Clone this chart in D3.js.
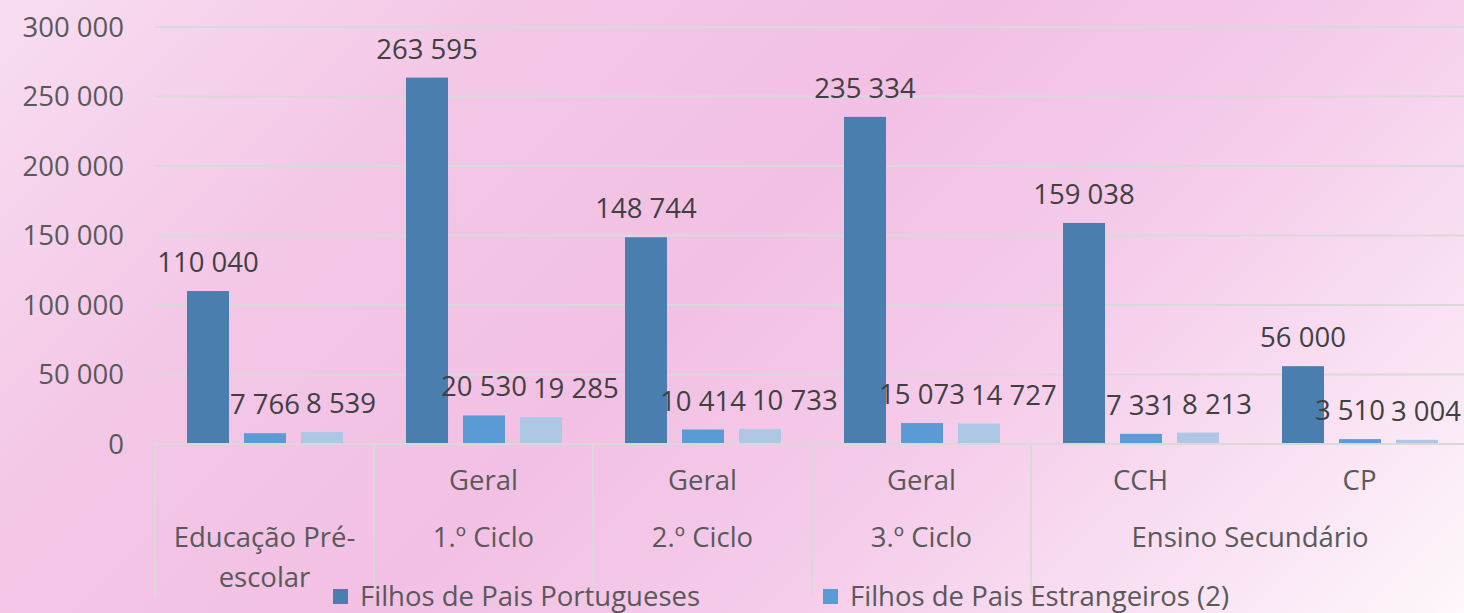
<!DOCTYPE html>
<html>
<head>
<meta charset="utf-8">
<script src="https://cdn.jsdelivr.net/npm/d3@7"></script>
<style>
  body { margin: 0; overflow: hidden; }
  svg { display: block; font-family: "Open Sans", sans-serif; }
</style>
</head>
<body>
<svg width="1464" height="613"></svg>
<script>
// Data
const groups = ["Educação Pré-escolar", "1.º Ciclo", "2.º Ciclo", "3.º Ciclo", "Ensino Secundário", "Ensino Secundário"];
const subLabels = ["", "Geral", "Geral", "Geral", "CCH", "CP"];
const seriesNames = ["Filhos de Pais Portugueses", "Filhos de Pais Estrangeiros (2)", "Série 3"];
const portugueses = [110040, 263595, 148744, 235334, 159038, 56000];
const estrangeiros = [7766, 20530, 10414, 15073, 7331, 3510];
const serie3 = [8539, 19285, 10733, 14727, 8213, 3004];
const yTicks = [0, 50000, 100000, 150000, 200000, 250000, 300000];
const colors = ["#4a7eae", "#5b9bd5", "#adc7e5"];

const FONTSIZE = 27.5;

const svg = d3.select("svg"),
    width = +svg.attr("width"),
    height = +svg.attr("height");

// background gradient
const defs = svg.append("defs");
const grad = defs.append("linearGradient")
    .attr("id", "bg")
    .attr("gradientUnits", "userSpaceOnUse")
    .attr("x1", 0).attr("y1", 0).attr("x2", 1100).attr("y2", 1100);
[[0, "#f8ddf1"], [0.25, "#f3c6e6"], [0.45, "#f2c0e4"], [0.62, "#f5cbea"], [0.8, "#f9e2f3"], [1, "#ffffff"]]
    .forEach(s => grad.append("stop").attr("offset", s[0]).attr("stop-color", s[1]));
svg.append("rect").attr("width", width).attr("height", height).attr("fill", "url(#bg)");

// scales
const keys = d3.range(groups.length);
const x = d3.scaleBand().domain(keys).range([155, 155 + 219 * groups.length]);
const xSub = d3.scaleBand().domain([0, 1, 2]).range([32, 188]).paddingInner(0.263);
const y = d3.scaleLinear().domain([0, 300000]).range([444, 27]);

const fmt = v => d3.format(",")(v).replace(/,/g, " ");

// gridlines
svg.append("g").selectAll("line")
    .data(yTicks.slice(1))
    .enter().append("line")
    .attr("x1", 155).attr("x2", width)
    .attr("y1", d => y(d)).attr("y2", d => y(d))
    .attr("stroke", "#d9d9d9").attr("stroke-width", 2);

// y axis labels
svg.append("g").selectAll("text")
    .data(yTicks)
    .enter().append("text")
    .attr("x", 124).attr("y", d => y(d))
    .attr("dy", "0.35em")
    .attr("text-anchor", "end")
    .attr("fill", "#595959")
    .attr("font-size", FONTSIZE)
    .text(fmt);

// bars
const series = [portugueses, estrangeiros, serie3];
const barG = svg.append("g");
series.forEach((vals, s) => {
    barG.selectAll(".bar" + s)
        .data(vals)
        .enter().append("rect")
        .attr("x", (d, i) => x(i) + xSub(s))
        .attr("width", xSub.bandwidth())
        .attr("y", d => y(d))
        .attr("height", d => y(0) - y(d))
        .attr("fill", colors[s]);
});

// data labels; the third series is pushed right when it would hit the second
const labelG = svg.append("g");
keys.forEach(i => {
    let prev = null, prevEnd = -Infinity;
    series.forEach((vals, s) => {
        const cx = x(i) + xSub(s) + xSub.bandwidth() / 2;
        const t = labelG.append("text")
            .attr("y", y(vals[i]) - 19)
            .attr("fill", "#404040")
            .attr("font-size", FONTSIZE)
            .text(fmt(vals[i]));
        const w = t.node().getComputedTextLength();
        let left = cx - w / 2;
        if (s === 2) left = Math.max(left, prevEnd + 6);
        // keep inside the picture, dragging the neighbour along
        const over = left + w - (width - 3);
        if (over > 0) {
            left -= over;
            if (prev) prev.attr("x", +prev.attr("x") - over);
        }
        t.attr("x", left);
        prev = t;
        prevEnd = left + w;
    });
});

// category axis
const axisG = svg.append("g").attr("stroke", "#d9d9d9").attr("stroke-width", 2);
axisG.append("line").attr("x1", 155).attr("x2", width).attr("y1", y(0)).attr("y2", y(0));
const seps = keys.filter(i => i === 0 || groups[i] !== groups[i - 1]);
axisG.selectAll(".sep")
    .data(seps)
    .enter().append("line")
    .attr("x1", i => x(i)).attr("x2", i => x(i))
    .attr("y1", y(0)).attr("y2", 595);

const catG = svg.append("g").attr("fill", "#595959").attr("font-size", FONTSIZE).attr("text-anchor", "middle");
catG.selectAll(".sub")
    .data(keys.filter(i => subLabels[i] !== ""))
    .enter().append("text")
    .attr("x", i => x(i) + x.bandwidth() / 2)
    .attr("y", 480).attr("dy", "0.35em")
    .text(i => subLabels[i]);

// top level groups, centred over their spans
const spans = d3.groups(keys, i => groups[i]);
spans.forEach(([name, idx]) => {
    const cx = (x(idx[0]) + x(idx[idx.length - 1]) + x.bandwidth()) / 2;
    if (name === "Educação Pré-escolar") {
        catG.append("text").attr("x", cx).attr("y", 537).attr("dy", "0.35em").text("Educação Pré-");
        catG.append("text").attr("x", cx).attr("y", 577).attr("dy", "0.35em").text("escolar");
    } else {
        catG.append("text").attr("x", cx).attr("y", 537).attr("dy", "0.35em").text(name);
    }
});

// legend (only the first two entries fit)
const legend = svg.append("g").selectAll("g")
    .data([0, 1])
    .enter().append("g")
    .attr("transform", d => "translate(" + (333 + d * 490) + ",589)");
legend.append("rect").attr("width", 15).attr("height", 15).attr("fill", d => colors[d]);
legend.append("text")
    .attr("x", 27).attr("y", 7).attr("dy", "0.35em")
    .attr("fill", "#595959").attr("font-size", FONTSIZE)
    .text(d => seriesNames[d]);
</script>
</body>
</html>
